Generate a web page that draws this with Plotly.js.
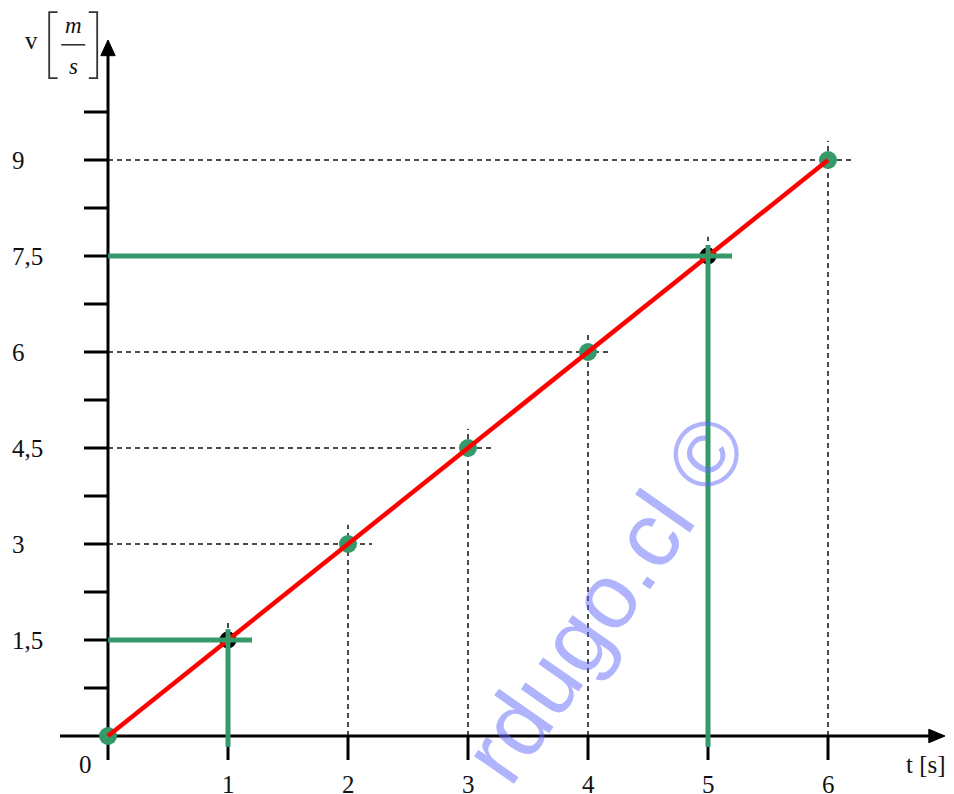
<!DOCTYPE html>
<html>
<head>
<meta charset="utf-8">
<script src="https://cdn.plot.ly/plotly-3.0.1.min.js"></script>
<style>html,body{margin:0;padding:0;background:#fff;}#chart{width:954px;height:794px;}</style>
</head>
<body>
<div id="chart"></div>
<script>
// ---- data ----
const times = [0, 1, 2, 3, 4, 5, 6];
const velocities = [0, 1.5, 3, 4.5, 6, 7.5, 9];
const highlightTimes = [1, 5];
const highlightVelocities = [1.5, 7.5];
const xTickValues = [0, 1, 2, 3, 4, 5, 6];
const xTickLabels = ['0', '1', '2', '3', '4', '5', '6'];
const yTickValues = [1.5, 3, 4.5, 6, 7.5, 9];
const yTickLabels = ['1,5', '3', '4,5', '6', '7,5', '9'];
const yTickMarks = [0.75, 1.5, 2.25, 3, 3.75, 4.5, 5.25, 6, 6.75, 7.5, 8.25, 9, 9.75];
const xAxisLabel = 't [s]';
const watermark = 'rdugo.cl ©';

// ---- styles ----
const GREEN = '#35996a';
const FONT = 'Liberation Serif, Times New Roman, serif';
const FS = 25;
const dashLine = {color: '#111', width: 1.5, dash: '5px,4px'};

const shapes = [];
// dashed guide lines
times.forEach((t, i) => {
  const v = velocities[i];
  if (t === 0) return;
  shapes.push({type: 'line', xref: 'x', yref: 'y', x0: t, x1: t, y0: 0, y1: v + 0.3, line: dashLine, layer: 'below'});
  shapes.push({type: 'line', xref: 'x', yref: 'y', x0: 0, x1: t + 0.2, y0: v, y1: v, line: dashLine, layer: 'below'});
});
// axes
const axisLine = {color: '#000', width: 3};
shapes.push({type: 'line', xref: 'x', yref: 'y', x0: -0.4, x1: 6.86, y0: 0, y1: 0, line: axisLine, layer: 'below'});
shapes.push({type: 'line', xref: 'x', yref: 'y', x0: 0, x1: 0, y0: -0.375, y1: 10.65, line: axisLine, layer: 'below'});
shapes.push({type: 'path', xref: 'x', yref: 'y', path: 'M 6.84,0.105 L 6.975,0 L 6.84,-0.105 Z', fillcolor: '#000', line: {color: '#000', width: 1}, layer: 'below'});
shapes.push({type: 'path', xref: 'x', yref: 'y', path: 'M -0.06,10.63 L 0,10.875 L 0.06,10.63 Z', fillcolor: '#000', line: {color: '#000', width: 1}, layer: 'below'});
xTickValues.forEach(t => {
  if (t === 0) return;
  shapes.push({type: 'line', xref: 'x', yref: 'y', x0: t, x1: t, y0: 0, y1: -0.375, line: axisLine, layer: 'below'});
});
yTickMarks.forEach(v => {
  shapes.push({type: 'line', xref: 'x', yref: 'y', x0: -0.2, x1: 0, y0: v, y1: v, line: axisLine, layer: 'below'});
});
// green reading lines
const greenLine = {color: GREEN, width: 5};
highlightTimes.forEach((t, i) => {
  const v = highlightVelocities[i];
  shapes.push({type: 'line', xref: 'x', yref: 'y', x0: 0, x1: t + 0.2, y0: v, y1: v, line: greenLine, layer: 'above'});
  shapes.push({type: 'line', xref: 'x', yref: 'y', x0: t, x1: t, y0: -0.17, y1: v + 0.17, line: greenLine, layer: 'above'});
});
// unit bracket for v [m/s]
const bl = {color: '#333', width: 1.8};
shapes.push({type: 'path', xref: 'x', yref: 'y', path: 'M -0.42,11.31 L -0.49,11.31 L -0.49,10.28 L -0.42,10.28', line: bl});
shapes.push({type: 'path', xref: 'x', yref: 'y', path: 'M -0.16,11.31 L -0.09,11.31 L -0.09,10.28 L -0.16,10.28', line: bl});
shapes.push({type: 'line', xref: 'x', yref: 'y', x0: -0.39, x1: -0.19, y0: 10.8, y1: 10.8, line: {color: '#333', width: 1.6}});

const annotations = [];
xTickValues.forEach((t, i) => {
  if (t === 0) {
    annotations.push({x: -0.19, y: -0.44, xref: 'x', yref: 'y', text: xTickLabels[i], showarrow: false, xanchor: 'center', yanchor: 'middle', font: {family: FONT, size: FS, color: '#111'}});
  } else {
    annotations.push({x: t, y: -0.75, xref: 'x', yref: 'y', text: xTickLabels[i], showarrow: false, xanchor: 'center', yanchor: 'middle', font: {family: FONT, size: FS, color: '#111'}});
  }
});
yTickValues.forEach((v, i) => {
  annotations.push({x: -0.82, y: v, xref: 'x', yref: 'y', text: yTickLabels[i], showarrow: false, xanchor: 'left', yanchor: 'middle', font: {family: FONT, size: FS, color: '#111'}});
});
annotations.push({x: 6.82, y: -0.45, xref: 'x', yref: 'y', text: xAxisLabel, showarrow: false, xanchor: 'center', yanchor: 'middle', font: {family: FONT, size: FS, color: '#111'}});
annotations.push({x: -0.64, y: 10.86, xref: 'x', yref: 'y', text: 'v', showarrow: false, xanchor: 'center', yanchor: 'middle', font: {family: FONT, size: FS, color: '#111'}});
annotations.push({x: -0.29, y: 11.1, xref: 'x', yref: 'y', text: '<i>m</i>', showarrow: false, xanchor: 'center', yanchor: 'middle', font: {family: FONT, size: 23, color: '#111'}});
annotations.push({x: -0.29, y: 10.46, xref: 'x', yref: 'y', text: '<i>s</i>', showarrow: false, xanchor: 'center', yanchor: 'middle', font: {family: FONT, size: 23, color: '#111'}});
// watermark
annotations.push({x: 4.14, y: 2.16, xref: 'x', yref: 'y', text: watermark, showarrow: false, textangle: -55, xanchor: 'center', yanchor: 'middle', font: {family: 'Liberation Sans, Arial, sans-serif', size: 92, color: 'rgba(95,105,250,0.5)'}});

const normalT = times.filter(t => !highlightTimes.includes(t));
const normalV = velocities.filter((v, i) => !highlightTimes.includes(times[i]));

const data = [
  {type: 'scatter', mode: 'markers', x: normalT, y: normalV, marker: {size: 18, color: GREEN}, hoverinfo: 'skip', cliponaxis: false},
  {type: 'scatter', mode: 'markers', x: highlightTimes, y: highlightVelocities, marker: {size: 17, color: '#000'}, hoverinfo: 'skip', cliponaxis: false},
  {type: 'scatter', mode: 'lines', x: times, y: velocities, line: {color: '#ff0000', width: 4.5}, hoverinfo: 'skip', cliponaxis: false}
];

const layout = {
  width: 954, height: 794,
  margin: {l: 0, r: 0, t: 0, b: 0},
  paper_bgcolor: '#fff', plot_bgcolor: '#fff',
  showlegend: false,
  xaxis: {range: [-0.9, 7.05], visible: false, fixedrange: true},
  yaxis: {range: [-0.90625, 11.5], visible: false, fixedrange: true},
  shapes: shapes,
  annotations: annotations
};
Plotly.newPlot('chart', data, layout, {displayModeBar: false, staticPlot: true});
</script>
</body>
</html>
